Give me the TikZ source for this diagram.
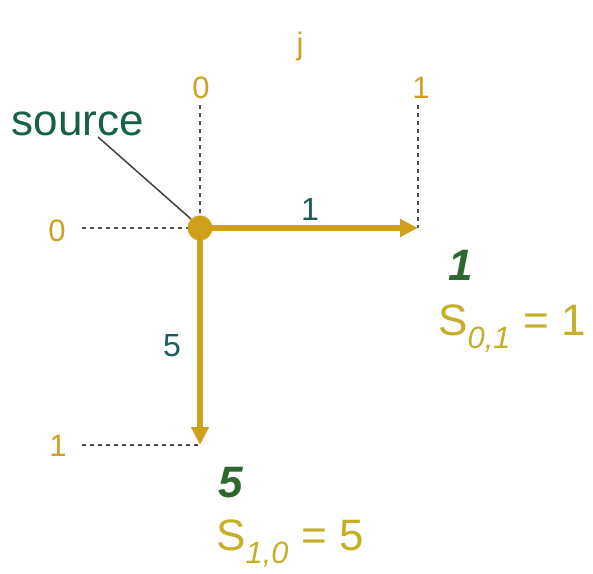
\documentclass[tikz,border=0pt]{standalone}
\usepackage{fontspec}
\setmainfont{Liberation Sans}
\usetikzlibrary{arrows.meta}
\definecolor{gold}{RGB}{207,160,28}
\definecolor{goldtxt}{RGB}{205,160,35}
\definecolor{olive}{RGB}{196,176,40}
\definecolor{dgreen}{RGB}{22,96,70}
\definecolor{teal}{RGB}{30,90,90}
\definecolor{bgreen}{RGB}{45,105,45}
\begin{document}
\begin{tikzpicture}[x=1pt,y=-1pt,
  idx/.style={text=goldtxt,font=\fontsize{31}{36}\selectfont,inner sep=0pt},
  elab/.style={text=teal,font=\fontsize{32}{36}\selectfont,inner sep=0pt},
  dist/.style={text=bgreen,font=\fontsize{44}{50}\selectfont\bfseries\itshape,inner sep=0pt},
  sval/.style={text=olive,font=\fontsize{44}{50}\selectfont,inner sep=0pt},
  guide/.style={draw=black!70,line width=1.4pt,dash pattern=on 4pt off 4pt},
  edge/.style={draw=gold,line width=5.5pt,-{Triangle[length=18pt,width=17pt]}},
]
\useasboundingbox (0,0) rectangle (593,573);
\coordinate (o) at (200,228);
\coordinate (a) at (418,228);
\coordinate (b) at (200,445);
\coordinate (t0) at (200,105);
\coordinate (t1) at (418,105);
\coordinate (l0) at (82,228);
\coordinate (l1) at (82,445);
\node[idx] (j) at (300,46) {j};
\node[idx] (c0) at (201,88) {0};
\node[idx] (c1) at (421,88) {1};
\node[idx] (r0) at (57,231) {0};
\node[idx] (r1) at (58,446) {1};
\draw[guide] (t0) -- (o);
\draw[guide] (t1) -- (a);
\draw[guide] (l0) -- (o);
\draw[guide] (l1) -- (b);
\draw[edge] (o) -- (a);
\draw[edge] (o) -- (b);
\node[circle,fill=gold,minimum size=25pt,inner sep=0pt] (src) at (o) {};
\node[text=dgreen,font=\fontsize{44}{50}\selectfont,inner sep=0pt] (srclab) at (78,124) {source};
\draw[black!75,line width=1.5pt] (98,137) -- (src.north west);
\node[elab] (e1) at (310,209) {1};
\node[elab] (e5) at (172,346) {5};
\node[dist] (d1) at (461,265) {1};
\node[sval] (s1) at (512,329) {S\textsubscript{\itshape 0,1} = 1};
\node[dist] (d5) at (231,483) {5};
\node[sval] (s5) at (290,544) {S\textsubscript{\itshape 1,0} = 5};
\end{tikzpicture}
\end{document}
